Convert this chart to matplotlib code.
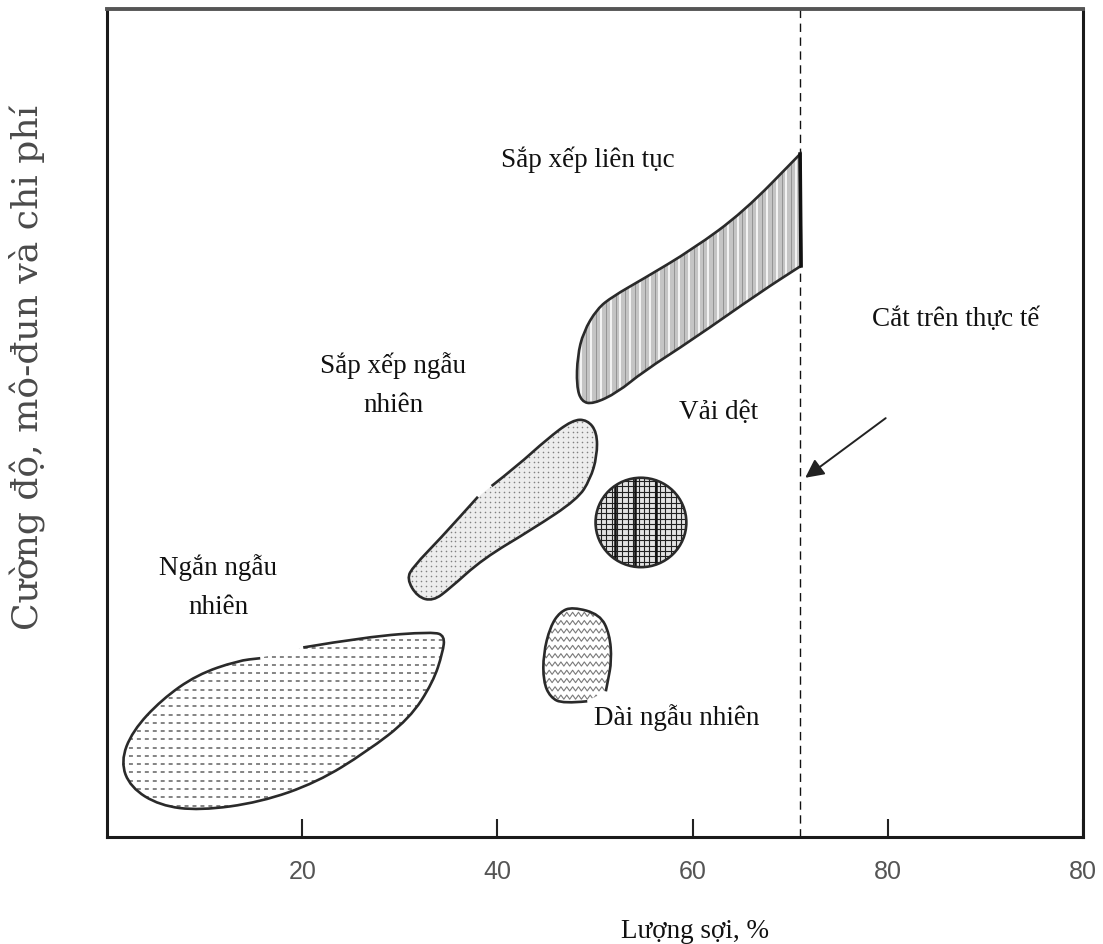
import numpy as np
import matplotlib.pyplot as plt
from matplotlib.patches import PathPatch, Ellipse
from matplotlib.path import Path
from matplotlib.collections import LineCollection

# ---- region outlines (x = fibre content %, y = relative 0-100)
# short random fibres (gap in outline on the top edge)
short_x = [20.1, 26.6, 33.4, 34.6, 34.4, 33.4, 31.0, 26.6, 21.5, 15.7, 9.5, 5.4, 2.4, 1.4, 2.6, 5.6, 9.2, 13.4, 15.7]
short_y = [22.9, 24.2, 24.8, 24.3, 22.3, 18.7, 14.3, 10.3, 6.6, 4.2, 3.2, 3.8, 6.0, 9.1, 12.8, 16.6, 19.6, 21.3, 21.6]

# aligned random
alrand_x = [39.4, 42.0, 45.1, 47.7, 49.2, 50.2, 50.2, 49.5, 48.2, 43.6, 38.5, 35.1, 33.4, 31.8, 30.7, 31.4, 34.1, 38.0]
alrand_y = [42.4, 44.8, 48.1, 50.4, 50.4, 48.9, 46.0, 43.2, 40.8, 37.2, 33.6, 30.0, 28.5, 29.0, 31.2, 32.7, 36.0, 41.1]

# aligned continuous (corners at the cutoff repeated so they stay sharp)
cont_x = [71.0, 71.0, 71.1, 71.1, 66.9, 60.0, 54.9, 52.3, 49.8, 48.6, 48.1, 48.2, 48.8, 50.2, 51.8, 54.9, 60.0, 65.2]
cont_y = [82.5, 82.5, 69.0, 69.0, 65.8, 60.1, 56.2, 53.7, 52.3, 52.6, 54.5, 58.1, 61.0, 63.8, 65.3, 67.4, 71.0, 75.5]

# woven fabric: roughly round patch
woven_center = (54.7, 38.0)
woven_size = (9.3, 10.8)

# long random
long_x = [49.2, 46.7, 45.4, 44.7, 44.7, 45.4, 46.4, 47.7, 50.5, 51.5, 51.7, 51.3, 51.1]
long_y = [16.4, 16.1, 16.9, 18.8, 22.1, 25.4, 27.2, 27.8, 26.9, 24.5, 21.3, 18.8, 17.6]

cutoff = 71.0                       # practical limit
arrow_from = (80.0, 50.8)
arrow_to = (71.3, 43.2)

xticks = [20, 40, 60, 80, 100]
xticklabels = ['20', '40', '60', '80', '80']

labels = {
    'Sắp xếp liên tục': (49.3, 81.9),
    'Sắp xếp ngẫu\nnhiên': (29.3, 54.7),
    'Ngắn ngẫu\nnhiên': (11.4, 30.3),
    'Vải dệt': (62.6, 51.4),
    'Cắt trên thực tế': (86.9, 62.6),
    'Dài ngẫu nhiên': (58.4, 14.5),
}

serif = ['Liberation Serif', 'DejaVu Serif']
sans = ['Liberation Sans', 'DejaVu Sans']

fig = plt.figure(figsize=(11.03, 9.45), dpi=100)
ax = fig.add_axes([0.097, 0.1132, 0.885, 0.876])
ax.set_xlim(0, 100)
ax.set_ylim(0, 100)


def smooth_path(x, y, closed=True):
    # quadratic bezier through the midpoints, points act as control points
    p = np.column_stack([x, y])
    n = len(p)
    if closed:
        verts = [(p[-1] + p[0]) / 2]
        codes = [Path.MOVETO]
        for i in range(n):
            verts += [p[i], (p[i] + p[(i + 1) % n]) / 2]
            codes += [Path.CURVE3, Path.CURVE3]
    else:
        verts = [p[0]]
        codes = [Path.MOVETO]
        for i in range(1, n - 1):
            verts += [p[i], (p[i] + p[i + 1]) / 2]
            codes += [Path.CURVE3, Path.CURVE3]
        verts.append(p[-1])
        codes.append(Path.LINETO)
    return Path(np.array(verts), codes)


def region(x, y, face, closed=True):
    patch = PathPatch(smooth_path(x, y), facecolor=face, edgecolor='none', zorder=2)
    ax.add_patch(patch)
    ax.add_patch(PathPatch(smooth_path(x, y, closed), fill=False,
                           edgecolor='#2a2a2a', lw=1.9, zorder=4))
    return patch


# short random: dashed rows
p = region(short_x, short_y, 'white', closed=False)
rows = np.arange(min(short_y) + 0.6, max(short_y), 1.0)
lc = ax.hlines(rows, min(short_x), max(short_x), colors='#7a7a7a',
               linestyles=(0, (2.2, 2.2)), lw=1.3, zorder=3)
lc.set_clip_path(p)

# aligned random: dots
p = region(alrand_x, alrand_y, '#ededed', closed=False)
gx, gy = np.meshgrid(np.arange(min(alrand_x), max(alrand_x), 0.5),
                     np.arange(min(alrand_y), max(alrand_y), 0.6))
sc = ax.scatter(gx.ravel(), gy.ravel(), s=1.3, color='#808080', lw=0, zorder=3)
sc.set_clip_path(p)

# aligned continuous: grey with vertical stripes
p = region(cont_x, cont_y, '#c4c4c4')
cols = np.arange(min(cont_x) + 0.5, max(cont_x), 1.0)
lc = ax.vlines(cols, min(cont_y), max(cont_y), colors='#f4f4f4', lw=1.4, zorder=3)
lc.set_clip_path(p)
lc = ax.vlines(cols + 0.5, min(cont_y), max(cont_y), colors='#8c8c8c', lw=0.6, zorder=3)
lc.set_clip_path(p)
ax.plot([cont_x[0], cont_x[2]], [cont_y[0], cont_y[2]], color='#111', lw=2.6, zorder=5)

# woven: fine grid with a few heavy warp lines
p = Ellipse(woven_center, *woven_size, facecolor='#e3e3e3', edgecolor='none', zorder=2)
ax.add_patch(p)
ax.add_patch(Ellipse(woven_center, *woven_size, fill=False, edgecolor='#2a2a2a', lw=1.9, zorder=4))
wx0, wx1 = woven_center[0] - woven_size[0] / 2, woven_center[0] + woven_size[0] / 2
wy0, wy1 = woven_center[1] - woven_size[1] / 2, woven_center[1] + woven_size[1] / 2
lc = ax.vlines(np.arange(wx0, wx1, 0.55), wy0, wy1, colors='#222', lw=0.8, zorder=3)
lc.set_clip_path(p)
lc = ax.hlines(np.arange(wy0, wy1, 0.65), wx0, wx1, colors='#222', lw=0.8, zorder=3)
lc.set_clip_path(p)
lc = ax.vlines([52.0, 54.1, 56.2], wy0, wy1, colors='#111', lw=1.8, zorder=3)
lc.set_clip_path(p)

# long random: wavy rows
p = region(long_x, long_y, 'white', closed=False)
segs = []
for y0 in np.arange(min(long_y) + 0.8, max(long_y), 1.0):
    xs = np.arange(min(long_x), max(long_x) + 0.3, 0.3)
    ys = y0 + 0.25 * (-1) ** np.arange(len(xs))
    segs.append(np.column_stack([xs, ys]))
lc = LineCollection(segs, colors='#7a7a7a', lw=0.8, zorder=3)
ax.add_collection(lc)
lc.set_clip_path(p)

# practical cutoff line and arrow
ax.axvline(cutoff, color='#111', lw=1.0, dashes=(6, 4), zorder=1)
ax.annotate('', xy=arrow_to, xytext=arrow_from,
            arrowprops=dict(arrowstyle='-|>', color='#222', lw=1.4, mutation_scale=28))

for txt, (tx, ty) in labels.items():
    ax.text(tx, ty, txt, family=serif, fontsize=19.5, ha='center', va='center',
            multialignment='center', linespacing=1.75, color='#111')

# axes styling
ax.set_xticks(xticks)
ax.set_xticklabels(xticklabels, family=sans, fontsize=18, color='#555')
ax.set_yticks([])
ax.tick_params(axis='x', direction='in', length=13, width=1.5, pad=16, color='#222')
for side in ['left', 'right', 'bottom']:
    ax.spines[side].set_linewidth(2.2)
    ax.spines[side].set_color('#1a1a1a')
ax.spines['top'].set_linewidth(2.8)
ax.spines['top'].set_color('#555')

ax.set_xlabel('Lượng sợi, %', family=serif, fontsize=19.5, color='#111')
ax.xaxis.set_label_coords(0.602, -0.098)
fig.text(0.024, 0.611, 'Cường độ, mô-đun và chi phí', family=['DejaVu Serif'], fontsize=26,
         rotation=90, ha='center', va='center', color='#4a4a4a')

plt.savefig('out.png')
